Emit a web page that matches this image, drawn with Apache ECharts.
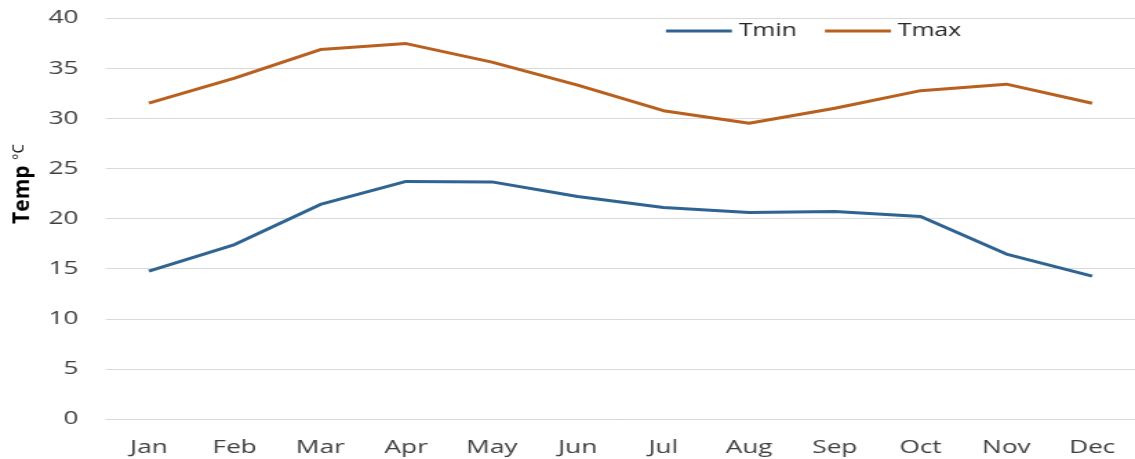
<!DOCTYPE html>
<html>
<head>
<meta charset="utf-8">
<style>
  html, body { margin: 0; padding: 0; background: #ffffff; overflow: hidden; }
  #wrap { width: 1135px; height: 459px; overflow: hidden; }
  /* the chart is laid out narrower and widened horizontally, giving the broad lettering */
  #chart { width: 823px; height: 459px; transform-origin: 0 0; }
</style>
<script src="https://cdn.jsdelivr.net/npm/echarts@6/dist/echarts.min.js"></script>
</head>
<body>
<div id="wrap"><div id="chart"></div></div>
<script>
// Monthly mean temperatures (°C)
const months = ['Jan', 'Feb', 'Mar', 'Apr', 'May', 'Jun', 'Jul', 'Aug', 'Sep', 'Oct', 'Nov', 'Dec'];
const tmin = [14.75, 17.4, 21.4, 23.7, 23.65, 22.2, 21.1, 20.6, 20.7, 20.2, 16.45, 14.25];
const tmax = [31.5, 34.0, 36.85, 37.45, 35.6, 33.3, 30.75, 29.5, 31.0, 32.75, 33.4, 31.5];

const SX = 1135 / 823;
const el = document.getElementById('chart');
el.style.transform = 'scaleX(' + SX + ')';

const chart = echarts.init(el);
const font = 'Open Sans';
const blue = '#2f6391';
const orange = '#b8601f';

chart.setOption({
  backgroundColor: '#ffffff',
  animation: false,
  grid: { left: 106 / SX, right: 0, top: 18, bottom: 40, containLabel: false },
  legend: {
    left: 659 / SX,
    top: 17,
    itemWidth: 66 / SX,
    itemHeight: 3,
    itemGap: 28 / SX,
    icon: 'rect',
    textStyle: { fontFamily: font, fontSize: 18, color: '#262626' },
    data: ['Tmin', 'Tmax']
  },
  // axis title; its thickness is counter-scaled so the rotated glyphs keep their proportions
  graphic: [{
    type: 'text',
    x: 17,
    y: 184,
    rotation: Math.PI / 2,
    scaleY: 1 / SX,
    style: {
      text: '{b|Temp }{s|°C}',
      textAlign: 'center',
      textVerticalAlign: 'middle',
      rich: {
        b: { fontFamily: font, fontSize: 21, fontWeight: 'bold', fill: '#000000', lineHeight: 24 },
        s: { fontFamily: font, fontSize: 15, fill: '#000000', verticalAlign: 'top', lineHeight: 24 }
      }
    }
  }],
  xAxis: {
    type: 'category',
    data: months,
    boundaryGap: true,
    axisLine: { show: true, lineStyle: { color: '#d9d9d9', width: 1 } },
    axisTick: { show: false },
    axisLabel: { fontFamily: font, fontSize: 19, color: '#404040', margin: 19 }
  },
  yAxis: {
    type: 'value',
    min: 0,
    max: 40,
    interval: 5,
    axisLine: { show: false },
    axisTick: { show: false },
    axisLabel: { fontFamily: font, fontSize: 19, color: '#404040', margin: 20 },
    splitLine: { lineStyle: { color: '#d9d9d9', width: 1 } }
  },
  series: [
    {
      name: 'Tmin',
      type: 'line',
      data: tmin,
      symbol: 'none',
      lineStyle: { color: blue, width: 3 },
      itemStyle: { color: blue }
    },
    {
      name: 'Tmax',
      type: 'line',
      data: tmax,
      symbol: 'none',
      lineStyle: { color: orange, width: 3 },
      itemStyle: { color: orange }
    }
  ]
});
</script>
</body>
</html>
